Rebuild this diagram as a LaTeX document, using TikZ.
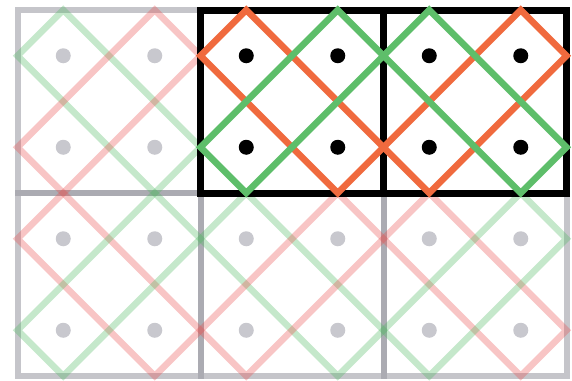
\documentclass[tikz,border=0pt]{standalone}
\definecolor{boldred}{RGB}{240,106,62}
\definecolor{boldgreen}{RGB}{94,190,106}
\definecolor{fadered}{RGB}{235,75,75}
\definecolor{fadegreen}{RGB}{75,185,95}
\definecolor{fadeframe}{RGB}{150,150,160}
\definecolor{fadedot}{RGB}{200,200,206}
\tikzset{
  diagline/.style={line width=6.5pt, line join=miter},
  fadered line/.style={diagline, draw=fadered, draw opacity=0.32},
  fadegreen line/.style={diagline, draw=fadegreen, draw opacity=0.32},
  boldred line/.style={diagline, draw=boldred},
  boldgreen line/.style={diagline, draw=boldgreen},
  fadeframe line/.style={line width=6pt, draw=fadeframe, draw opacity=0.55},
  boldframe line/.style={line width=7pt, draw=black, line join=miter},
  fadedot fill/.style={fill=fadedot},
  bolddot fill/.style={fill=black},
}
% cell size 183, quarter 45.75
\newcommand\mainrect[3]{\draw[#3] (#1+45.75,#2) -- (#1+183,#2+137.25) -- (#1+137.25,#2+183) -- (#1,#2+45.75) -- cycle;}
\newcommand\antirect[3]{\draw[#3] (#1+137.25,#2) -- (#1+183,#2+45.75) -- (#1+45.75,#2+183) -- (#1,#2+137.25) -- cycle;}
\newcommand\celldots[3]{\foreach \dx in {45.75,137.25}{\foreach \dy in {45.75,137.25}{\fill[#3] (#1+\dx,#2+\dy) circle (7.5pt);}}}
\begin{document}
\begin{tikzpicture}[x=1pt,y=-1pt]
\fill[white] (0,0) rectangle (572,380);
\useasboundingbox (0,0) rectangle (572,380);
% faded frames
\foreach \cx/\cy in {17.5/10, 17.5/193, 200.5/193, 383.5/193}{
  \draw[fadeframe line] (\cx,\cy) rectangle (\cx+183,\cy+183);
}
% faded rectangles
\mainrect{17.5}{10}{fadegreen line}
\antirect{17.5}{10}{fadered line}
\mainrect{17.5}{193}{fadered line}
\antirect{17.5}{193}{fadegreen line}
\mainrect{200.5}{193}{fadegreen line}
\antirect{200.5}{193}{fadered line}
\mainrect{383.5}{193}{fadered line}
\antirect{383.5}{193}{fadegreen line}
% faded dots
\celldots{17.5}{10}{fadedot fill}
\celldots{17.5}{193}{fadedot fill}
\celldots{200.5}{193}{fadedot fill}
\celldots{383.5}{193}{fadedot fill}
% bold frame
\draw[boldframe line] (200.5,10) rectangle (566.5,193);
\draw[boldframe line] (383.5,10) -- (383.5,193);
% bold rectangles
\mainrect{200.5}{10}{boldred line}
\antirect{200.5}{10}{boldgreen line}
\antirect{383.5}{10}{boldred line}
\mainrect{383.5}{10}{boldgreen line}
% bold dots
\celldots{200.5}{10}{bolddot fill}
\celldots{383.5}{10}{bolddot fill}
\end{tikzpicture}
\end{document}
